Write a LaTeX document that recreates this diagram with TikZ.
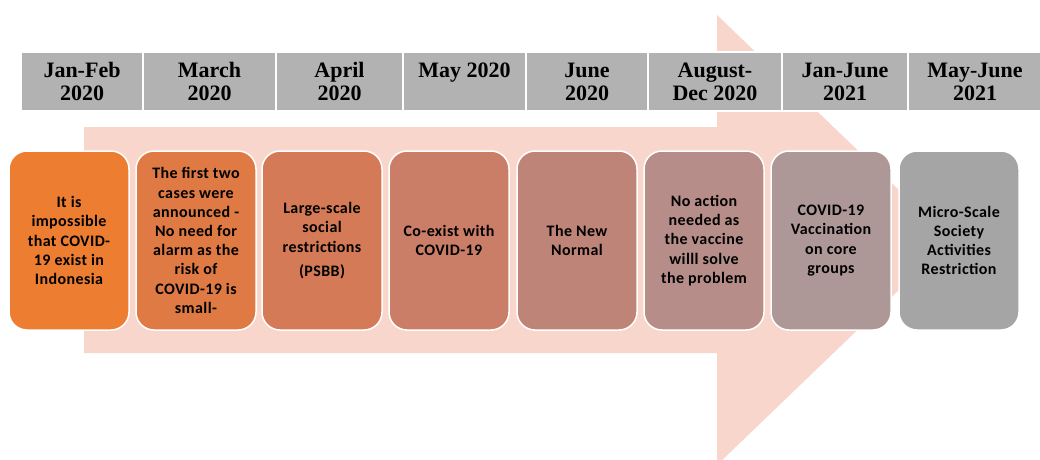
\documentclass[tikz,border=0pt]{standalone}
\usepackage{fontspec}
\setmainfont{Liberation Serif}
\newfontfamily\boxfont[LetterSpace=2.5]{Carlito}
\definecolor{arrowpink}{RGB}{249,214,204}
\definecolor{headgrey}{RGB}{178,178,178}
\definecolor{stageA}{RGB}{237,125,49}
\definecolor{stageB}{RGB}{224,122,68}
\definecolor{stageC}{RGB}{213,122,86}
\definecolor{stageD}{RGB}{202,126,103}
\definecolor{stageE}{RGB}{191,132,120}
\definecolor{stageF}{RGB}{182,141,136}
\definecolor{stageG}{RGB}{173,152,151}
\definecolor{stageH}{RGB}{165,165,165}
\tikzset{
  headcell/.style={draw=white, line width=1.5pt, fill=headgrey, inner sep=0pt,
    minimum height=59pt, align=center, text=black,
    font=\fontsize{22}{22.8}\selectfont\bfseries},
  stagebox/.style={draw=white, line width=1.5pt, rounded corners=18pt, inner sep=0pt,
    minimum width=120pt, minimum height=179pt, align=center, text=black,
    font=\boxfont\fontsize{16}{19.2}\selectfont\bfseries},
}
\begin{document}
\begin{tikzpicture}[x=1pt,y=-1pt]
\useasboundingbox (0,0) rectangle (1040,459);
\fill[white] (0,0) rectangle (1040,459);

% background arrow
\begin{scope}
\clip (0,0) rectangle (1040,459);
\fill[arrowpink] (84,127) -- (717,127) -- (717,15) -- (951,240)
  -- (717,465) -- (717,353) -- (84,353) -- cycle;
\end{scope}

% period header
\begin{scope}
\clip (0,0) rectangle (1040,459);
\foreach \name/\xa/\xb/\txt in {
  h1/21/143/{Jan-Feb\\2020},
  h2/143/276/{March\\2020},
  h3/276/403/{April\\2020},
  h4/403/526/{May 2020\\\mbox{}},
  h5/526/648/{June\\2020},
  h6/648/782/{August-\\Dec 2020},
  h7/782/908/{Jan-June\\2021},
  h8/908/1042/{May-June\\2021}}{
  \node[headcell, minimum width={\xb-\xa}] (\name) at ({(\xa+\xb)/2},81.5) {\txt};
}
\end{scope}

% stage boxes
\node[stagebox, fill=stageA] (b1) at (69,240.5)
  {It is\\impossible\\that COVID-\\19 exist in\\Indonesia};
\node[stagebox, fill=stageB] (b2) at (196,240.5)
  {The first two\\cases were\\announced -\\No need for\\alarm as the\\risk of\\COVID-19 is\\small-};
\node[stagebox, fill=stageC] (b3) at (322,240.5)
  {Large-scale\\social\\restrictions\\[5pt](PSBB)};
\node[stagebox, fill=stageD] (b4) at (449,240.5)
  {Co-exist with\\COVID-19};
\node[stagebox, fill=stageE] (b5) at (577,240.5)
  {The New\\Normal};
\node[stagebox, fill=stageF] (b6) at (704,240.5)
  {No action\\needed as\\the vaccine\\willl solve\\the problem};
\node[stagebox, fill=stageG] (b7) at (831,240.5)
  {COVID-19\\Vaccination\\on core\\groups};
\node[stagebox, fill=stageH] (b8) at (959,240.5)
  {Micro-Scale\\Society\\Activities\\Restriction};
\end{tikzpicture}
\end{document}
